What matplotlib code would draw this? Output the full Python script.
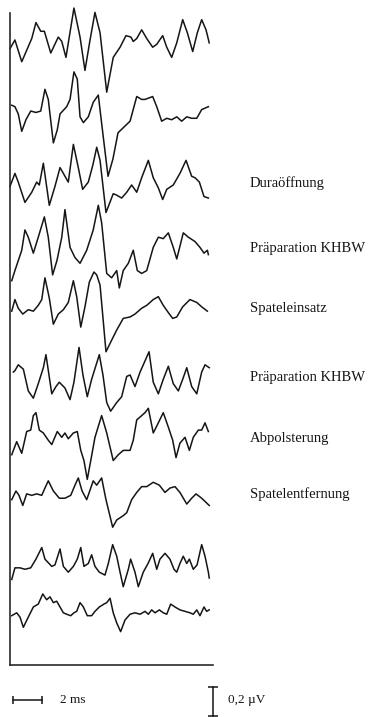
import matplotlib.pyplot as plt

# Zeitpunkte (ms) und Amplituden (µV) der zehn Ableitungen, von oben nach unten
t1 = [0.0, 0.34, 0.81, 1.50, 1.79, 2.12, 2.37, 2.81, 3.33, 3.57, 3.86, 4.41, 4.83, 5.17, 5.52, 5.86, 6.21, 6.67, 7.12, 7.59,
      8.00, 8.34, 8.50, 8.74, 9.08, 9.43, 9.84, 10.12, 10.53, 10.81, 11.15, 11.50, 11.91, 12.23, 12.60, 12.92, 13.22, 13.52, 13.74]
v1 = [-0.06, 0.0, -0.15, 0.01, 0.12, 0.06, 0.06, -0.09, 0.02, -0.01, -0.12, 0.22, 0.02, -0.21, 0.0, 0.19, 0.05, -0.36, -0.12, -0.05,
      0.03, 0.02, -0.01, 0.01, 0.07, 0.01, -0.05, -0.03, 0.03, -0.05, -0.12, -0.02, 0.14, 0.05, -0.08, 0.05, 0.14, 0.07, -0.02]

t2 = [0.12, 0.34, 0.57, 0.81, 1.10, 1.43, 1.79, 2.12, 2.41, 2.64, 2.99, 3.26, 3.45, 3.91, 4.14, 4.41, 4.64, 4.83, 5.06, 5.40,
      5.74, 6.09, 6.41, 6.76, 7.10, 7.45, 8.28, 8.74, 9.08, 9.31, 9.84, 10.12, 10.46, 10.81, 11.15, 11.50, 11.84, 12.19, 12.53,
      12.88, 13.22, 13.68]
v2 = [0.03, 0.02, -0.03, -0.15, -0.07, -0.01, -0.02, -0.01, 0.14, 0.07, -0.23, -0.14, -0.03, 0.02, 0.07, 0.26, 0.21, -0.05, -0.09,
      -0.05, 0.05, 0.10, -0.17, -0.46, -0.34, -0.16, -0.08, 0.09, 0.07, 0.07, 0.09, 0.02, -0.08, -0.06, -0.07, -0.05, -0.08,
      -0.05, -0.06, -0.06, 0.0, 0.02]

t3 = [0.0, 0.34, 0.57, 1.03, 1.50, 1.84, 2.02, 2.30, 2.71, 3.10, 3.45, 3.68, 4.02, 4.37, 4.71, 5.01, 5.40, 5.72, 5.98, 6.21,
      6.62, 7.12, 7.36, 7.70, 8.05, 8.39, 8.74, 9.08, 9.54, 9.88, 10.23, 10.53, 10.81, 11.26, 11.72, 12.14, 12.53, 12.76, 13.06,
      13.38, 13.68]
v3 = [-0.01, 0.08, 0.02, -0.12, -0.05, 0.02, 0.0, 0.15, -0.14, -0.01, 0.12, 0.08, 0.02, 0.28, 0.12, -0.03, 0.02, 0.14, 0.26, 0.17,
      -0.19, -0.06, -0.07, -0.09, -0.05, 0.0, -0.05, 0.05, 0.17, 0.05, -0.02, -0.10, -0.03, 0.0, 0.08, 0.17, 0.06, 0.05, 0.02,
      -0.08, -0.09]

t4 = [0.12, 0.34, 0.81, 1.03, 1.26, 1.61, 1.95, 2.37, 2.64, 2.94, 3.24, 3.57, 3.79, 4.14, 4.48, 4.83, 5.29, 5.74, 6.09, 6.32,
      6.67, 7.01, 7.36, 7.54, 7.81, 8.16, 8.50, 8.78, 9.08, 9.43, 9.88, 10.23, 10.57, 10.92, 11.26, 11.50, 11.95, 12.30, 12.76,
      13.10, 13.38, 13.61, 13.68]
v4 = [-0.21, -0.14, 0.0, 0.14, 0.09, -0.02, 0.09, 0.23, 0.09, -0.17, -0.07, 0.09, 0.28, 0.02, -0.05, -0.09, 0.0, 0.14, 0.31, 0.19,
      -0.16, -0.19, -0.14, -0.26, -0.14, -0.09, 0.0, -0.14, -0.16, -0.14, 0.02, 0.09, 0.08, 0.12, 0.02, -0.06, 0.12, 0.09, 0.06,
      0.02, -0.02, 0.0, -0.03]

t5 = [0.12, 0.34, 0.57, 0.88, 1.26, 1.61, 1.95, 2.19, 2.41, 2.71, 2.99, 3.33, 3.68, 4.02, 4.37, 4.60, 4.88, 5.17, 5.47, 5.79,
      5.98, 6.21, 6.62, 7.01, 7.36, 7.81, 8.28, 8.62, 9.08, 9.43, 9.88, 10.23, 10.57, 10.92, 11.22, 11.50, 11.91, 12.41, 12.88,
      13.22, 13.61]
v5 = [-0.01, 0.07, 0.01, -0.03, 0.0, -0.01, 0.03, 0.07, 0.22, 0.08, -0.10, -0.03, 0.0, 0.05, 0.20, 0.09, -0.12, 0.02, 0.19, 0.26,
      0.24, 0.17, -0.29, -0.21, -0.14, -0.06, -0.05, -0.03, 0.01, 0.03, 0.07, 0.09, 0.03, -0.02, -0.06, -0.05, 0.02, 0.07, 0.05,
      0.02, -0.01]

t6 = [0.23, 0.34, 0.57, 0.92, 1.26, 1.61, 1.95, 2.30, 2.48, 2.88, 3.17, 3.40, 3.79, 4.14, 4.41, 4.76, 5.03, 5.33, 5.63, 6.16,
      6.41, 6.67, 6.94, 7.36, 7.70, 8.05, 8.28, 8.62, 8.97, 9.59, 9.88, 10.23, 10.57, 10.92, 11.26, 11.61, 11.91, 12.19, 12.53,
      12.88, 13.22, 13.45, 13.74]
v6 = [0.05, 0.06, 0.10, 0.07, -0.08, -0.13, -0.03, 0.08, 0.17, -0.10, -0.05, -0.02, -0.06, -0.14, -0.02, 0.22, 0.03, -0.12, 0.0,
      0.17, 0.03, -0.16, -0.22, -0.16, -0.12, 0.02, 0.03, -0.05, 0.05, 0.19, -0.02, -0.10, 0.0, 0.09, -0.03, -0.08, 0.0, 0.08,
      -0.05, -0.10, 0.05, 0.10, 0.08]

t7 = [0.12, 0.46, 0.81, 1.15, 1.43, 1.61, 1.79, 2.02, 2.30, 2.64, 2.88, 3.26, 3.57, 3.79, 4.02, 4.37, 4.64, 4.88, 5.10, 5.33,
      5.57, 5.86, 6.32, 6.67, 7.12, 7.47, 7.81, 8.28, 8.50, 8.74, 8.97, 9.31, 9.54, 9.88, 10.23, 10.57, 10.92, 11.22, 11.45,
      11.72, 12.07, 12.37, 12.64, 12.99, 13.22, 13.45, 13.68]
v7 = [-0.10, -0.01, -0.09, 0.06, 0.07, 0.17, 0.19, 0.07, 0.05, 0.0, -0.03, 0.06, 0.02, 0.05, 0.01, 0.05, 0.06, -0.07, -0.14,
      -0.27, -0.14, 0.02, 0.17, 0.05, -0.14, -0.10, -0.07, -0.07, 0.0, 0.14, 0.16, 0.19, 0.22, 0.05, 0.12, 0.19, 0.09, 0.0,
      -0.12, -0.02, 0.02, -0.07, 0.02, 0.07, 0.07, 0.12, 0.06]

t8 = [0.12, 0.41, 0.62, 0.88, 1.15, 1.50, 1.84, 2.19, 2.41, 2.64, 2.99, 3.40, 3.79, 4.19, 4.48, 4.71, 4.97, 5.29, 5.74, 5.98,
      6.32, 6.62, 7.08, 7.36, 7.81, 8.05, 8.39, 8.74, 9.08, 9.43, 9.88, 10.30, 10.69, 11.03, 11.38, 11.72, 12.19, 12.53, 12.83,
      13.22, 13.74]
v8 = [-0.03, 0.03, 0.0, -0.07, 0.01, 0.0, 0.01, 0.0, 0.05, 0.10, 0.03, -0.02, -0.02, 0.0, 0.07, 0.12, 0.03, -0.03, 0.10, 0.07,
      0.12, -0.03, -0.22, -0.17, -0.14, -0.12, -0.03, 0.02, 0.06, 0.06, 0.09, 0.07, 0.02, 0.05, 0.06, 0.02, -0.06, -0.02, 0.01,
      -0.02, -0.07]

t9 = [0.12, 0.34, 0.69, 1.03, 1.43, 1.79, 2.19, 2.41, 2.88, 3.10, 3.45, 3.68, 4.02, 4.37, 4.64, 4.88, 5.10, 5.40, 5.63, 5.86,
      6.16, 6.55, 6.78, 7.08, 7.36, 7.59, 7.81, 8.16, 8.32, 8.62, 8.85, 9.19, 9.52, 9.84, 10.12, 10.34, 10.69, 11.03, 11.31,
      11.50, 11.72, 11.95, 12.19, 12.37, 12.64, 12.90, 13.22, 13.45, 13.68, 13.74]
v9 = [-0.08, 0.0, 0.0, -0.01, 0.0, 0.06, 0.14, 0.06, 0.01, 0.02, 0.13, 0.01, -0.03, 0.01, 0.06, 0.14, 0.01, 0.03, 0.09, 0.01,
      -0.03, -0.05, 0.03, 0.16, 0.08, -0.03, -0.13, -0.01, 0.06, -0.03, -0.13, -0.03, 0.03, 0.10, -0.01, 0.06, 0.10, 0.06,
      -0.01, -0.03, 0.03, 0.08, 0.03, 0.06, -0.01, 0.02, 0.16, 0.08, -0.03, -0.07]

t10 = [0.12, 0.46, 0.69, 0.92, 1.26, 1.61, 1.95, 2.26, 2.53, 2.76, 2.99, 3.22, 3.45, 3.68, 3.91, 4.19, 4.41, 4.60, 4.83, 5.06,
       5.33, 5.63, 5.86, 6.16, 6.48, 6.67, 6.90, 7.12, 7.36, 7.63, 7.93, 8.28, 8.62, 8.97, 9.31, 9.54, 9.77, 10.00, 10.30,
       10.57, 10.81, 11.08, 11.38, 11.72, 12.07, 12.41, 12.64, 12.88, 13.10, 13.38, 13.56, 13.74]
v10 = [-0.03, -0.01, -0.04, -0.11, -0.04, 0.03, 0.05, 0.12, 0.08, 0.10, 0.06, 0.07, 0.03, -0.01, -0.02, -0.03, -0.01, 0.0, 0.06,
       0.03, -0.03, -0.03, 0.0, 0.03, 0.05, 0.06, 0.09, -0.01, -0.08, -0.14, -0.06, -0.02, -0.01, -0.02, 0.0, -0.02, 0.01,
       -0.01, 0.01, -0.01, -0.02, 0.05, 0.03, 0.01, 0.0, -0.01, -0.02, 0.01, -0.03, 0.03, 0.0, 0.01]

# Abstand der Kurven (µV) und Beschriftung der OP-Phasen
offsets = [0.0, 0.48, 1.00, 1.45, 1.86, 2.34, 2.76, 3.14, 3.64, 3.94]
labels = ["", "", "Duraöffnung", "Präparation KHBW", "Spateleinsatz",
          "Präparation KHBW", "Abpolsterung", "Spatelentfernung", "", ""]

# Kalibrierung
scale_ms = 2.0
scale_uv = 0.2

times = [t1, t2, t3, t4, t5, t6, t7, t8, t9, t10]
values = [v1, v2, v3, v4, v5, v6, v7, v8, v9, v10]

serif = ["Liberation Serif", "DejaVu Serif"]
ink = "#151515"

fig = plt.figure(figsize=(3.8, 7.17), dpi=100)
ax = fig.add_axes([10 / 380, 52 / 717, 203 / 380, 652 / 717])
ax.set_xlim(0, 14.0)
ax.set_ylim(-4.31, 0.186)

for t, v, off, lab in zip(times, values, offsets, labels):
    ax.plot(t, [a - off for a in v], color=ink, lw=1.1, solid_joinstyle="round", clip_on=False)
    if lab:
        ax.text(16.55, -off + 0.01, lab, fontsize=10.5, family=serif, color=ink,
                va="center", ha="left", clip_on=False)

# nur linke und untere Achse
for side in ["top", "right"]:
    ax.spines[side].set_visible(False)
for side in ["left", "bottom"]:
    ax.spines[side].set_linewidth(1.2)
    ax.spines[side].set_color("#2a2a2a")
ax.set_xticks([])
ax.set_yticks([])

# Zeit- und Amplitudenbalken
y_bar = -4.55
ax.plot([0.23, 0.23 + scale_ms], [y_bar, y_bar], color=ink, lw=1.1, clip_on=False)
ax.plot([0.23, 0.23 + scale_ms], [y_bar, y_bar], ls="none", marker="|", ms=6, mew=1.1, color=ink, clip_on=False)
ax.text(3.45, y_bar, "2 ms", fontsize=9.5, family=serif, color=ink, va="center", ha="left", clip_on=False)

x_bar = 14.0
ax.plot([x_bar, x_bar], [-4.66, -4.66 + scale_uv], color=ink, lw=1.1, clip_on=False)
ax.plot([x_bar, x_bar], [-4.66, -4.66 + scale_uv], ls="none", marker="_", ms=7, mew=1.1, color=ink, clip_on=False)
ax.text(15.05, y_bar, "0,2 µV", fontsize=9.5, family=serif, color=ink, va="center", ha="left", clip_on=False)

fig.savefig("out.png", dpi=100)
